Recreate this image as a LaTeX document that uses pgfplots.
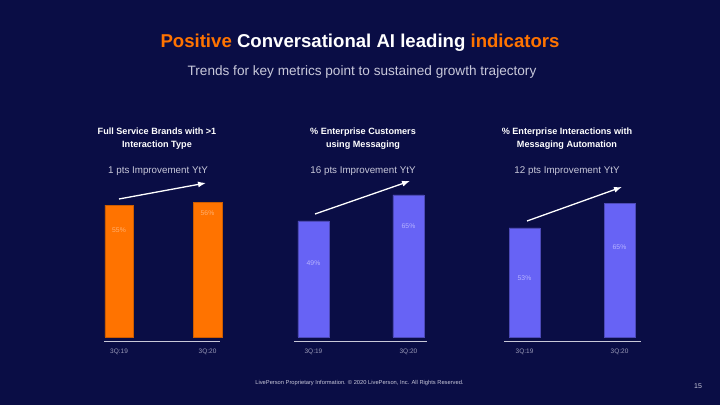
\documentclass[border=0pt]{standalone}
\usepackage{pgfplots}
\pgfplotsset{compat=1.18}
\usepackage{fontspec}
\setmainfont{Liberation Sans}
\usetikzlibrary{arrows.meta}
\definecolor{bg}{HTML}{0A0D45}
\definecolor{lporange}{HTML}{FF7300}
\definecolor{lppurple}{HTML}{6763F5}
\definecolor{lblorange}{HTML}{FFB070}
\definecolor{lblpurple}{HTML}{B8B4FF}
\definecolor{subgray}{HTML}{C8C8DA}
\definecolor{tickgray}{HTML}{9A9AB8}
\definecolor{basegray}{HTML}{C8C8D8}
\begin{document}
\begin{tikzpicture}
\fill[bg] (0pt,0pt) rectangle (720pt,405pt);
% titles
\node[font=\fontsize{18.6}{20}\selectfont\bfseries, text=white] at (360pt,362pt)
  {\textcolor{lporange}{Positive} Conversational AI leading \textcolor{lporange}{indicators}};
\node[font=\fontsize{13.6}{15}\selectfont, text=subgray] at (362pt,333pt)
  {Trends for key metrics point to sustained growth trajectory};
% chart titles
\node[font=\fontsize{9.1}{13}\selectfont\bfseries, text=white, align=center] at (157pt,266.5pt) {Full Service Brands with >1\\Interaction Type};
\node[font=\fontsize{9.1}{13}\selectfont\bfseries, text=white, align=center] at (363pt,266.5pt) {\% Enterprise Customers\\using Messaging};
\node[font=\fontsize{9.1}{13}\selectfont\bfseries, text=white, align=center] at (567pt,266.5pt) {\% Enterprise Interactions with\\Messaging Automation};
\node[font=\fontsize{9.8}{11}\selectfont, text=subgray] at (158pt,234pt) {1 pts Improvement YtY};
\node[font=\fontsize{9.8}{11}\selectfont, text=subgray] at (363pt,234pt) {16 pts Improvement YtY};
\node[font=\fontsize{9.8}{11}\selectfont, text=subgray] at (567pt,234pt) {12 pts Improvement YtY};

\pgfplotsset{lpaxis/.style={
  scale only axis, height=142pt,
  anchor=south west,
  axis line style={draw=none},
  major tick length=0pt,
  ytick=\empty,
  xtick={0,1}, xticklabels={3Q:19,3Q:20},
  xticklabel style={font=\fontsize{6.5}{7}\selectfont, text=tickgray, yshift=-8pt},
  clip=false,
}}
% chart 1
\begin{axis}[lpaxis, at={(104pt,68pt)}, width=115.9pt, xmin=-0.17, xmax=1.14, ymin=0, ymax=59.2]
\addplot[ybar, bar width=28.5pt, fill=lporange, draw=lporange!80!black, line width=0.4pt]
  coordinates {(0,55) (1,56)};
\draw[basegray, line width=0.9pt] ([yshift=-4pt]rel axis cs:0,0) -- ([yshift=-4pt]rel axis cs:1,0);
\end{axis}
% chart 2
\begin{axis}[lpaxis, at={(294pt,68pt)}, width=133pt, xmin=-0.205, xmax=1.195, ymin=0, ymax=87.4,
  y filter/.expression={y+22.4}]
\addplot[ybar, bar width=31pt, fill=lppurple, draw=lppurple!75!black, line width=0.4pt]
  coordinates {(0,49) (1,65)};
\draw[basegray, line width=0.9pt] ([yshift=-4pt]rel axis cs:0,0) -- ([yshift=-4pt]rel axis cs:1,0);
\end{axis}
% chart 3
\begin{axis}[lpaxis, at={(504pt,68pt)}, width=137pt, xmin=-0.216, xmax=1.226, ymin=0, ymax=68.9]
\addplot[ybar, bar width=31pt, fill=lppurple, draw=lppurple!75!black, line width=0.4pt]
  coordinates {(0,53) (1,65)};
\draw[basegray, line width=0.9pt] ([yshift=-4pt]rel axis cs:0,0) -- ([yshift=-4pt]rel axis cs:1,0);
\end{axis}
% value labels
\node[font=\fontsize{6.8}{7}\selectfont, text=lblorange] at (119pt,175pt) {55\%};
\node[font=\fontsize{6.8}{7}\selectfont, text=lblorange] at (207.5pt,192pt) {56\%};
\node[font=\fontsize{6.8}{7}\selectfont, text=lblpurple] at (313.5pt,142pt) {49\%};
\node[font=\fontsize{6.8}{7}\selectfont, text=lblpurple] at (408.5pt,179pt) {65\%};
\node[font=\fontsize{6.8}{7}\selectfont, text=lblpurple] at (524.5pt,127pt) {53\%};
\node[font=\fontsize{6.8}{7}\selectfont, text=lblpurple] at (619.5pt,158pt) {65\%};
% arrows
\draw[white, line width=1.3pt, -{Latex[length=8pt,width=6pt]}] (119pt,206pt) -- (206pt,222pt);
\draw[white, line width=1.3pt, -{Latex[length=8pt,width=6pt]}] (315pt,191pt) -- (410pt,224pt);
\draw[white, line width=1.3pt, -{Latex[length=8pt,width=6pt]}] (527pt,184pt) -- (622pt,218pt);
% footer
\node[font=\fontsize{5.75}{6}\selectfont, text=subgray] at (359.5pt,22pt)
  {LivePerson Proprietary Information. © 2020 LivePerson, Inc. All Rights Reserved.};
\node[font=\fontsize{7}{8}\selectfont, text=subgray] at (698pt,19pt) {15};
\end{tikzpicture}
\end{document}
